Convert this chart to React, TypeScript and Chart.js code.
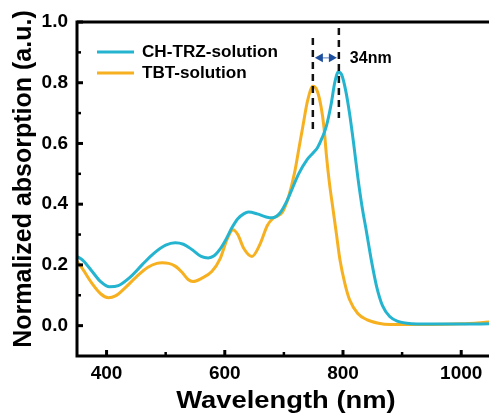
import React, { useEffect, useRef } from "react";
import { Chart, registerables } from "chart.js";

Chart.register(...registerables);

// ---- data ----
const chTrzWavelength = [350, 360, 375, 390, 405, 420, 440, 460, 480, 500, 516, 530, 545, 560, 572, 582, 592, 602, 612, 622, 632, 640, 655, 670, 680, 693, 705, 715, 725, 739, 750, 757, 765, 772, 780, 786, 792, 798, 805, 811, 818, 825, 832, 840, 848, 857, 867, 879, 893, 908, 950, 1000, 1050];
const chTrzAbs = [0.228, 0.215, 0.18, 0.145, 0.128, 0.132, 0.16, 0.2, 0.238, 0.265, 0.273, 0.268, 0.25, 0.228, 0.223, 0.23, 0.252, 0.284, 0.322, 0.352, 0.368, 0.374, 0.368, 0.358, 0.355, 0.37, 0.41, 0.455, 0.5, 0.546, 0.57, 0.587, 0.62, 0.658, 0.73, 0.8, 0.835, 0.825, 0.77, 0.7, 0.6, 0.49, 0.395, 0.306, 0.215, 0.128, 0.065, 0.03, 0.014, 0.008, 0.005, 0.005, 0.006];

const tbtWavelength = [350, 360, 375, 390, 403, 415, 430, 450, 470, 485, 494, 505, 516, 528, 538, 546, 560, 578, 592, 604, 614, 622, 632, 646, 660, 672, 681, 690, 698, 708, 718, 726, 732, 740, 749, 756, 763, 768, 772, 777, 783, 789, 795, 803, 811, 825, 840, 860, 880, 950, 1000, 1050];
const tbtAbs = [0.212, 0.185, 0.14, 0.105, 0.092, 0.098, 0.122, 0.16, 0.192, 0.205, 0.207, 0.205, 0.196, 0.175, 0.152, 0.145, 0.155, 0.178, 0.22, 0.285, 0.316, 0.3, 0.255, 0.228, 0.27, 0.33, 0.352, 0.362, 0.375, 0.425, 0.503, 0.59, 0.655, 0.74, 0.788, 0.775, 0.72, 0.65, 0.56, 0.47, 0.385, 0.3, 0.215, 0.14, 0.086, 0.04, 0.02, 0.008, 0.004, 0.004, 0.006, 0.012];

const seriesNames = ["CH-TRZ-solution", "TBT-solution"];
const xMajorTicks = [400, 600, 800, 1000];
const xMinorTicks = [500, 700, 900];
const yMajorTicks = [0, 0.2, 0.4, 0.6, 0.8, 1.0];
const yMinorTicks = [0.1, 0.3, 0.5, 0.7, 0.9];

// annotation: peak positions and shift label
const peakLines = [
  { x: 749, y0: 0.645, y1: 0.947 },
  { x: 793, y0: 0.684, y1: 0.98 },
];
const arrowY = 0.882;
const shiftLabel = "34nm";

const X_TITLE = "Wavelength (nm)";
const Y_TITLE = "Normalized absorption (a.u.)";

const CYAN = "#25b4cf";
const ORANGE = "#f6b020";
const FONT = "'Liberation Sans', Arial, sans-serif";

function stretchedText(ctx: any, text: string, x: number, y: number, sx: number) {
  ctx.save();
  ctx.translate(x, y);
  ctx.scale(sx, 1);
  ctx.fillText(text, 0, 0);
  ctx.restore();
}

const decorPlugin = {
  id: "decor",
  afterDraw(chart: any) {
    const { ctx, chartArea: ca, scales } = chart;
    const xs = scales.x;
    const ys = scales.y;
    ctx.save();
    // frame: left, bottom, top
    ctx.strokeStyle = "#000";
    ctx.lineWidth = 3;
    ctx.lineCap = "butt";
    ctx.beginPath();
    ctx.moveTo(ca.left, ca.top);
    ctx.lineTo(ca.right + 2, ca.top);
    ctx.moveTo(ca.left, ca.top - 1.5);
    ctx.lineTo(ca.left, ca.bottom + 1.5);
    ctx.moveTo(ca.left - 1.5, ca.bottom);
    ctx.lineTo(ca.right + 2, ca.bottom);
    ctx.stroke();

    // inward ticks
    const tickX = (v: number, len: number, w: number) => {
      const px = xs.getPixelForValue(v);
      ctx.lineWidth = w;
      ctx.beginPath();
      ctx.moveTo(px, ca.bottom);
      ctx.lineTo(px, ca.bottom - len);
      ctx.stroke();
    };
    const tickY = (v: number, len: number, w: number) => {
      const py = ys.getPixelForValue(v);
      ctx.lineWidth = w;
      ctx.beginPath();
      ctx.moveTo(ca.left, py);
      ctx.lineTo(ca.left + len, py);
      ctx.stroke();
    };
    xMajorTicks.forEach((v) => tickX(v, 6, 3));
    xMinorTicks.forEach((v) => tickX(v, 4, 2.5));
    yMajorTicks.forEach((v) => tickY(v, 6, 3));
    yMinorTicks.forEach((v) => tickY(v, 4, 2.5));

    // titles
    ctx.fillStyle = "#000";
    ctx.textAlign = "center";
    ctx.textBaseline = "middle";
    ctx.font = `bold 24px ${FONT}`;
    stretchedText(ctx, X_TITLE, 286, 401, 1.14);
    ctx.save();
    ctx.translate(24, 179);
    ctx.rotate(-Math.PI / 2);
    ctx.font = `bold 25px ${FONT}`;
    ctx.fillText(Y_TITLE, 0, 0);
    ctx.restore();

    // legend
    const legend = [
      { name: seriesNames[0], color: CYAN, y: 52 },
      { name: seriesNames[1], color: ORANGE, y: 73 },
    ];
    ctx.font = `bold 16px ${FONT}`;
    ctx.textAlign = "left";
    legend.forEach((l) => {
      ctx.strokeStyle = l.color;
      ctx.lineWidth = 3;
      ctx.beginPath();
      ctx.moveTo(97, l.y);
      ctx.lineTo(134, l.y);
      ctx.stroke();
      ctx.fillStyle = "#000";
      stretchedText(ctx, l.name, 142, l.y + 1, 1.07);
    });

    // dashed peak lines
    ctx.strokeStyle = "#111";
    ctx.lineWidth = 2.5;
    ctx.setLineDash([7, 5]);
    peakLines.forEach((p) => {
      const px = xs.getPixelForValue(p.x);
      ctx.beginPath();
      ctx.moveTo(px, ys.getPixelForValue(p.y1));
      ctx.lineTo(px, ys.getPixelForValue(p.y0));
      ctx.stroke();
    });
    ctx.setLineDash([]);

    // double arrow
    const ax0 = xs.getPixelForValue(peakLines[0].x) + 2;
    const ax1 = xs.getPixelForValue(peakLines[1].x) - 2;
    const ay = ys.getPixelForValue(arrowY);
    ctx.strokeStyle = "#93a9d4";
    ctx.lineWidth = 1.5;
    ctx.beginPath();
    ctx.moveTo(ax0 + 6, ay);
    ctx.lineTo(ax1 - 6, ay);
    ctx.stroke();
    ctx.fillStyle = "#1d4f9e";
    ctx.beginPath();
    ctx.moveTo(ax0, ay);
    ctx.lineTo(ax0 + 8, ay - 4.5);
    ctx.lineTo(ax0 + 8, ay + 4.5);
    ctx.closePath();
    ctx.fill();
    ctx.beginPath();
    ctx.moveTo(ax1, ay);
    ctx.lineTo(ax1 - 8, ay - 4.5);
    ctx.lineTo(ax1 - 8, ay + 4.5);
    ctx.closePath();
    ctx.fill();

    ctx.fillStyle = "#000";
    ctx.font = `bold 16px ${FONT}`;
    ctx.textAlign = "left";
    ctx.fillText(shiftLabel, xs.getPixelForValue(peakLines[1].x) + 11, ay + 1);
    ctx.restore();
  },
};

export default function App() {
  const ref = useRef<HTMLCanvasElement>(null);
  useEffect(() => {
    if (!ref.current) return;
    const chart = new Chart(ref.current, {
      type: "line",
      data: {
        datasets: [
          {
            label: seriesNames[0],
            data: chTrzWavelength.map((x, i) => ({ x, y: chTrzAbs[i] })),
            borderColor: CYAN,
            borderWidth: 3,
            pointRadius: 0,
            cubicInterpolationMode: "monotone",
            fill: false,
          },
          {
            label: seriesNames[1],
            data: tbtWavelength.map((x, i) => ({ x, y: tbtAbs[i] })),
            borderColor: ORANGE,
            borderWidth: 3,
            pointRadius: 0,
            cubicInterpolationMode: "monotone",
            fill: false,
          },
        ],
      },
      options: {
        responsive: false,
        animation: false,
        layout: { padding: { top: 22, right: 0, left: 0, bottom: 0 } },
        plugins: { legend: { display: false }, tooltip: { enabled: false } },
        scales: {
          x: {
            type: "linear",
            min: 350,
            max: 1047,
            grid: { display: false, drawTicks: false },
            border: { display: false },
            afterBuildTicks: (axis: any) => {
              axis.ticks = xMajorTicks.map((v) => ({ value: v }));
            },
            afterFit: (axis: any) => {
              axis.height = 63;
            },
            ticks: {
              color: "#000",
              padding: 6,
              maxRotation: 0,
              autoSkip: false,
              font: { family: FONT, size: 19, weight: "bold" },
              callback: (v: any) => String(v),
            },
          },
          y: {
            min: -0.1,
            max: 1.0,
            grid: { display: false, drawTicks: false },
            border: { display: false },
            afterBuildTicks: (axis: any) => {
              axis.ticks = yMajorTicks.map((v) => ({ value: v }));
            },
            afterFit: (axis: any) => {
              axis.width = 77;
            },
            ticks: {
              color: "#000",
              padding: 9,
              autoSkip: false,
              font: { family: FONT, size: 19, weight: "bold" },
              callback: (v: any) => Number(v).toFixed(1),
            },
          },
        },
      },
      plugins: [decorPlugin],
    });
    return () => chart.destroy();
  }, []);
  return (
    <div style={{ position: "absolute", left: 0, top: 0, width: 489, height: 419, background: "#fff" }}>
      <canvas ref={ref} width={489} height={419} style={{ display: "block" }} />
    </div>
  );
}
